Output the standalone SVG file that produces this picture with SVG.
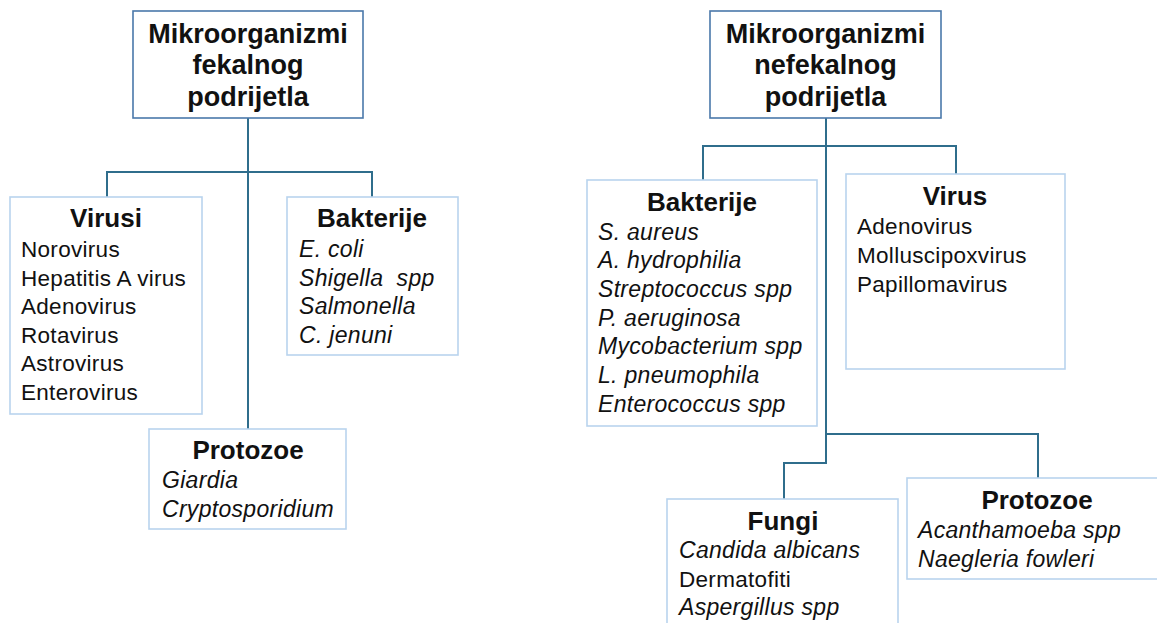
<svg xmlns="http://www.w3.org/2000/svg" width="1157" height="623" viewBox="0 0 1157 623">
<style>
.bg{fill:#ffffff}
.root{fill:#ffffff;stroke:#4a78aa;stroke-width:1.6}
.box{fill:#ffffff;stroke:#b9d4ee;stroke-width:1.6}
.conn{fill:none;stroke:#2f6d8c;stroke-width:2}
text{font-family:"Liberation Sans",Arial,sans-serif;fill:#111111}
.rt{font-size:27px;font-weight:bold;text-anchor:middle}
.st{font-size:26px;font-weight:bold;text-anchor:middle}
.it{font-size:22.5px;letter-spacing:0.3px}
.ii{font-size:23px;font-style:italic;letter-spacing:0.3px}
</style>
<rect class="bg" x="0" y="0" width="1157" height="623"/>
<g id="connectors">
<path class="conn" d="M248,118 V429 M107,197 V172 H372 V197"/>
<path class="conn" d="M826,118 V463 H784 V499 M703,180 V146 H956 V174 M826,434 H1038 V478"/>
</g>
<g id="root-fekalnog">
<rect class="root" x="133" y="11" width="230" height="107"/>
<text class="rt" x="248" y="43">Mikroorganizmi</text>
<text class="rt" x="248" y="74">fekalnog</text>
<text class="rt" x="248" y="106">podrijetla</text>
</g>
<g id="virusi">
<rect class="box" x="10" y="197" width="192" height="217"/>
<text class="st" x="106" y="227">Virusi</text>
<text class="it" x="21" y="257">Norovirus</text>
<text class="it" x="21" y="286">Hepatitis A virus</text>
<text class="it" x="21" y="314">Adenovirus</text>
<text class="it" x="21" y="343">Rotavirus</text>
<text class="it" x="21" y="371">Astrovirus</text>
<text class="it" x="21" y="400">Enterovirus</text>
</g>
<g id="bakterije-fekalne">
<rect class="box" x="287" y="197" width="171" height="158"/>
<text class="st" x="372" y="227">Bakterije</text>
<text class="ii" x="299" y="257">E. coli</text>
<text class="ii" x="299" y="286" xml:space="preserve">Shigella  spp</text>
<text class="ii" x="299" y="314">Salmonella</text>
<text class="ii" x="299" y="343">C. jenuni</text>
</g>
<g id="protozoe-fekalne">
<rect class="box" x="149" y="429" width="197" height="100"/>
<text class="st" x="248" y="459">Protozoe</text>
<text class="ii" x="162" y="488">Giardia</text>
<text class="ii" x="162" y="517">Cryptosporidium</text>
</g>
<g id="root-nefekalnog">
<rect class="root" x="710" y="11" width="231" height="107"/>
<text class="rt" x="825.5" y="43">Mikroorganizmi</text>
<text class="rt" x="825.5" y="74">nefekalnog</text>
<text class="rt" x="825.5" y="106">podrijetla</text>
</g>
<g id="bakterije-nefekalne">
<rect class="box" x="587" y="180" width="230" height="246"/>
<text class="st" x="702" y="211">Bakterije</text>
<text class="ii" x="598" y="240">S. aureus</text>
<text class="ii" x="598" y="268">A. hydrophilia</text>
<text class="ii" x="598" y="297">Streptococcus spp</text>
<text class="ii" x="598" y="326">P. aeruginosa</text>
<text class="ii" x="598" y="354">Mycobacterium spp</text>
<text class="ii" x="598" y="383">L. pneumophila</text>
<text class="ii" x="598" y="412">Enterococcus spp</text>
</g>
<g id="virus-nefekalni">
<rect class="box" x="846" y="174" width="219" height="195"/>
<text class="st" x="955" y="205">Virus</text>
<text class="it" x="857" y="234">Adenovirus</text>
<text class="it" x="857" y="263">Molluscipoxvirus</text>
<text class="it" x="857" y="292">Papillomavirus</text>
</g>
<g id="fungi">
<rect class="box" x="667" y="499" width="231" height="140"/>
<text class="st" x="783" y="530">Fungi</text>
<text class="ii" x="679" y="558">Candida albicans</text>
<text class="it" x="679" y="587">Dermatofiti</text>
<text class="ii" x="679" y="615">Aspergillus spp</text>
</g>
<g id="protozoe-nefekalne">
<rect class="box" x="907" y="478" width="270" height="101"/>
<text class="st" x="1037" y="509">Protozoe</text>
<text class="ii" x="918" y="538">Acanthamoeba spp</text>
<text class="ii" x="918" y="567">Naegleria fowleri</text>
</g>
</svg>
